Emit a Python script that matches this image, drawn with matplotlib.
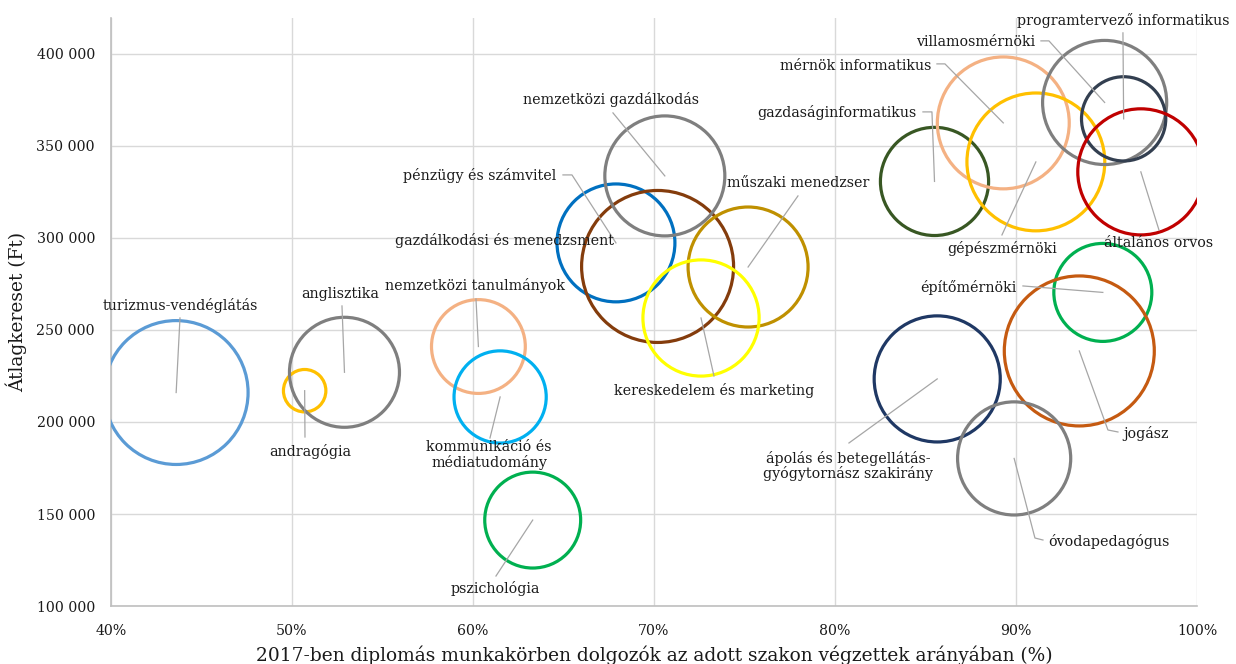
import matplotlib
matplotlib.use("Agg")
import matplotlib.pyplot as plt
from matplotlib.ticker import FuncFormatter, MultipleLocator

#%%

# Adatok: szak, arany (%), atlagkereset (Ft), buborek merete

szakok = ['turizmus-vendéglátás', 'andragógia', 'anglisztika',
          'nemzetközi tanulmányok', 'kommunikáció és\nmédiatudomány',
          'pszichológia', 'pénzügy és számvitel',
          'gazdálkodási és menedzsment', 'nemzetközi gazdálkodás',
          'műszaki menedzser', 'kereskedelem és marketing',
          'gazdaságinformatikus', 'mérnök informatikus', 'gépészmérnöki',
          'villamosmérnöki', 'programtervező informatikus',
          'általános orvos', 'építőmérnöki', 'jogász',
          'ápolás és betegellátás-\ngyógytornász szakirány',
          'óvodapedagógus']

arany = [43.6, 50.7, 52.9, 60.3, 61.5, 63.3, 67.9, 70.2, 70.6, 75.2, 72.6,
         85.5, 89.3, 91.1, 94.9, 95.95, 96.9, 94.8, 93.5, 85.65, 89.9]

kereset = [216000, 217000, 227000, 241000, 213600, 146700, 297300, 284500,
           333700, 284200, 256500, 330700, 362500, 341300, 373600, 364700,
           335900, 270400, 238600, 223400, 180200]

meret = [207, 18, 121, 88, 85, 92, 139, 231, 144, 144, 135,
         117, 174, 190, 154, 71, 159, 96, 225, 159, 128]

szinek = ['#5B9BD5', '#FFC000', '#7F7F7F', '#F4B183', '#00B0F0', '#00B050',
          '#0070C0', '#843C0C', '#7F7F7F', '#BF9000', '#FFFF00',
          '#385723', '#F4B183', '#FFC000', '#7F7F7F', '#333F50',
          '#C00000', '#00B050', '#C55A11', '#1F3864', '#7F7F7F']

# Cimkek helye a kepen (pixel): x, y, igazitas, vezetovonal toresi pontjai
cimkek = [(180, 306, 'center', [(180, 318)]),
          (310, 452, 'center', [(305, 437)]),
          (340, 294, 'center', [(342, 306)]),
          (475, 286, 'center', [(476, 299)]),
          (489, 455, 'center', [(490, 438)]),
          (495, 588, 'center', [(496, 576)]),
          (556, 176, 'right', [(563, 175), (572, 175)]),
          (505, 241, 'center', []),
          (611, 100, 'center', [(613, 113)]),
          (798, 183, 'center', [(798, 196)]),
          (714, 391, 'center', [(714, 376)]),
          (917, 113, 'right', [(923, 112), (932, 112)]),
          (931, 66, 'right', [(937, 64), (945, 64)]),
          (1002, 249, 'center', [(1002, 235)]),
          (1035, 42, 'right', [(1041, 41), (1049, 41)]),
          (1123, 21, 'center', [(1123, 33)]),
          (1159, 243, 'center', [(1159, 230)]),
          (1017, 288, 'right', [(1023, 286)]),
          (1123, 434, 'left', [(1118, 432), (1108, 430)]),
          (848, 466, 'center', [(849, 443)]),
          (1048, 541, 'left', [(1043, 540), (1035, 538)])]

#%%

def px_to_data(px, py):
    # kep pixelei -> tengely adatai
    return 40 + (px - 111) / 18.1, 100000 + (606 - py) / 92 * 50000

plt.rcParams['font.family'] = ['DejaVu Serif']

fig, ax = plt.subplots(figsize=(12.36, 6.64), dpi=100)
fig.subplots_adjust(left=0.0898, right=0.9684, bottom=0.0873, top=0.9729)

ax.scatter(arany, kereset, s=[m * 51.84 for m in meret],
           facecolors='none', edgecolors=szinek, linewidths=2.3, zorder=3)

for (nev, x, y, (tx, ty, ha, pontok)) in zip(szakok, arany, kereset, cimkek):
    xs = [px_to_data(*p)[0] for p in pontok]
    ys = [px_to_data(*p)[1] for p in pontok]
    if pontok:
        ax.plot(xs + [x], ys + [y], color='#A6A6A6', lw=0.9, zorder=4)
    lx, ly = px_to_data(tx, ty)
    ax.text(lx, ly, nev, ha=ha, va='center', fontsize=10.3,
            color='#1a1a1a', linespacing=1.05, zorder=5)

ax.set_xlim(40, 100)
ax.set_ylim(100000, 419500)
ax.xaxis.set_major_locator(MultipleLocator(10))
ax.yaxis.set_major_locator(MultipleLocator(50000))
ax.xaxis.set_major_formatter(FuncFormatter(lambda v, p: f'{v:.0f}%'))
ax.yaxis.set_major_formatter(
    FuncFormatter(lambda v, p: f'{int(v):,}'.replace(',', ' ')))
ax.grid(color='#D9D9D9', lw=1)
ax.set_axisbelow(True)
ax.tick_params(length=0, labelsize=10.2, colors='#1a1a1a')
ax.tick_params(axis='y', pad=11.5)
ax.tick_params(axis='x', pad=13)
for s in ['top', 'right']:
    ax.spines[s].set_visible(False)
for s in ['left', 'bottom']:
    ax.spines[s].set_color('#BFBFBF')
    ax.spines[s].set_linewidth(1.2)

ax.set_xlabel('2017-ben diplomás munkakörben dolgozók az adott szakon '
              'végzettek arányában (%)', fontsize=13.4, color='#1a1a1a',
              labelpad=5)
ax.set_ylabel('Átlagkereset (Ft)', fontsize=13.4, color='#1a1a1a',
              labelpad=7)

fig.savefig('out.png')
